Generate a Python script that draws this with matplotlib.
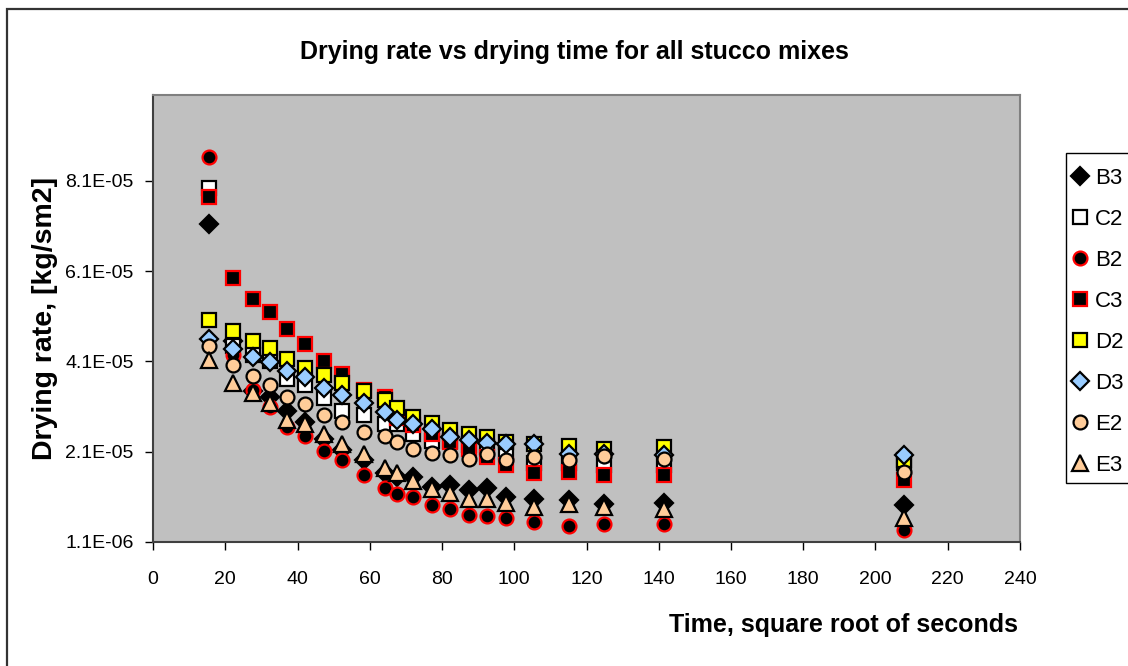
import matplotlib
matplotlib.use("Agg")
import matplotlib.pyplot as plt
from matplotlib.patches import Rectangle
from matplotlib.ticker import FixedLocator, FixedFormatter

plt.rcParams['font.family'] = ['Liberation Sans', 'DejaVu Sans']

# Time, square root of seconds
time_sqrt = [15.6, 22.2, 27.6, 32.4, 37.2, 42.1, 47.3, 52.3, 58.4, 64.2, 67.6,
             72.1, 77.3, 82.2, 87.5, 92.4, 97.7, 105.5, 115.2, 124.9, 141.5, 208.0]

# Drying rate, kg/(s m2)
B3 = [7.15e-5, 4.56e-5, 3.45e-5, 3.31e-5, 3.00e-5, 2.76e-5, 2.39e-5, 2.15e-5, 1.91e-5, 1.62e-5, 1.54e-5,
      1.54e-5, 1.32e-5, 1.36e-5, 1.25e-5, 1.29e-5, 1.10e-5, 1.05e-5, 1.03e-5, 0.95e-5, 0.96e-5, 0.92e-5]
C2 = [7.93e-5, 4.45e-5, 4.25e-5, 4.12e-5, 3.72e-5, 3.57e-5, 3.29e-5, 3.00e-5, 2.91e-5, 2.72e-5, 2.72e-5,
      2.49e-5, 2.35e-5, 2.35e-5, 2.25e-5, 2.20e-5, 2.10e-5, 1.85e-5, 1.85e-5, 1.80e-5, 1.80e-5, 1.85e-5]
B2 = [8.62e-5, 4.25e-5, 3.47e-5, 3.09e-5, 2.65e-5, 2.44e-5, 2.11e-5, 1.91e-5, 1.58e-5, 1.29e-5, 1.16e-5,
      1.09e-5, 0.92e-5, 0.83e-5, 0.70e-5, 0.68e-5, 0.63e-5, 0.55e-5, 0.46e-5, 0.50e-5, 0.50e-5, 0.37e-5]
C3 = [7.75e-5, 5.94e-5, 5.48e-5, 5.19e-5, 4.81e-5, 4.49e-5, 4.12e-5, 3.83e-5, 3.46e-5, 3.31e-5, 2.84e-5,
      2.69e-5, 2.50e-5, 2.32e-5, 2.17e-5, 1.99e-5, 1.80e-5, 1.62e-5, 1.66e-5, 1.58e-5, 1.58e-5, 1.47e-5]
D2 = [5.02e-5, 4.77e-5, 4.56e-5, 4.40e-5, 4.15e-5, 3.95e-5, 3.81e-5, 3.62e-5, 3.44e-5, 3.25e-5, 3.08e-5,
      2.88e-5, 2.74e-5, 2.59e-5, 2.50e-5, 2.43e-5, 2.32e-5, 2.28e-5, 2.22e-5, 2.17e-5, 2.21e-5, 1.91e-5]
D3 = [4.60e-5, 4.38e-5, 4.21e-5, 4.08e-5, 3.90e-5, 3.75e-5, 3.51e-5, 3.35e-5, 3.18e-5, 2.98e-5, 2.80e-5,
      2.72e-5, 2.61e-5, 2.43e-5, 2.36e-5, 2.30e-5, 2.27e-5, 2.27e-5, 2.06e-5, 2.05e-5, 2.02e-5, 2.04e-5]
E2 = [4.44e-5, 4.03e-5, 3.77e-5, 3.57e-5, 3.31e-5, 3.15e-5, 2.91e-5, 2.77e-5, 2.54e-5, 2.44e-5, 2.32e-5,
      2.17e-5, 2.07e-5, 2.04e-5, 1.95e-5, 2.05e-5, 1.91e-5, 1.99e-5, 1.91e-5, 2.00e-5, 1.95e-5, 1.66e-5]
E3 = [4.14e-5, 3.62e-5, 3.40e-5, 3.17e-5, 2.81e-5, 2.71e-5, 2.50e-5, 2.28e-5, 2.05e-5, 1.75e-5, 1.62e-5,
      1.46e-5, 1.27e-5, 1.18e-5, 1.05e-5, 1.05e-5, 0.96e-5, 0.88e-5, 0.94e-5, 0.87e-5, 0.83e-5, 0.63e-5]

series_names = ["B3", "C2", "B2", "C3", "D2", "D3", "E2", "E3"]
series_values = [B3, C2, B2, C3, D2, D3, E2, E3]

y_ticks = [1.1e-6, 2.1e-5, 4.1e-5, 6.1e-5, 8.1e-5]
y_tick_labels = ["1.1E-06", "2.1E-05", "4.1E-05", "6.1E-05", "8.1E-05"]
x_ticks = list(range(0, 241, 20))

styles = {
    "B3": dict(marker="D", color="black", edge="black", size=9),
    "C2": dict(marker="s", color="white", edge="black", size=10),
    "B2": dict(marker="o", color="black", edge="red", size=10),
    "C3": dict(marker="s", color="black", edge="red", size=10),
    "D2": dict(marker="s", color="#FFFF00", edge="black", size=10),
    "D3": dict(marker="D", color="#99CCFF", edge="black", size=9),
    "E2": dict(marker="o", color="#FFCC99", edge="black", size=10),
    "E3": dict(marker="^", color="#FFCC99", edge="black", size=11),
}

W, H = 1128, 666
fig = plt.figure(figsize=(W / 100, H / 100), dpi=100)
ax = fig.add_axes([153 / W, 1 - 541.7 / H, (1020 - 153) / W, (541.7 - 95) / H])
ax.set_facecolor("#C0C0C0")

for name, vals in zip(series_names, series_values):
    st = styles[name]
    ax.plot(time_sqrt, vals, linestyle="none", marker=st["marker"],
            markerfacecolor=st["color"], markeredgecolor=st["edge"],
            markeredgewidth=1.6, markersize=st["size"], label=name, clip_on=False)

ax.set_xlim(0, 240)
ax.set_ylim(1.1e-6, 1.0e-4)
ax.xaxis.set_major_locator(FixedLocator(x_ticks))
ax.set_xticklabels([str(v) for v in x_ticks])
ax.yaxis.set_major_locator(FixedLocator(y_ticks))
ax.yaxis.set_major_formatter(FixedFormatter(y_tick_labels))
ax.tick_params(axis="both", direction="out", length=6, width=1, colors="black",
               labelsize=14)
ax.tick_params(axis="x", pad=15)
ax.tick_params(axis="y", pad=8)

for side in ("top", "right"):
    ax.spines[side].set_color("#808080")
    ax.spines[side].set_linewidth(1.5)
ax.spines["left"].set_color("#404040")
ax.spines["bottom"].set_color("#404040")
ax.spines["left"].set_linewidth(1.5)
ax.spines["bottom"].set_linewidth(1.5)

fig.text(574 / W, 1 - 52 / H, "Drying rate vs drying time for all stucco mixes",
         ha="center", va="center", fontsize=18, fontweight="bold")
fig.text(1018 / W, 1 - 625 / H, "Time, square root of seconds",
         ha="right", va="center", fontsize=18, fontweight="bold")
fig.text(45 / W, 1 - 318 / H, "Drying rate, [kg/sm2]",
         ha="center", va="center", rotation=90, fontsize=20.5, fontweight="bold")

# Legend entries without their own frame; the box is drawn separately
leg = fig.legend(loc="upper left", bbox_to_anchor=(1073 / W, 1 - 168 / H),
                 bbox_transform=fig.transFigure, fontsize=16, frameon=False,
                 borderpad=0, labelspacing=0.9,
                 handlelength=0.6, handletextpad=0.4, borderaxespad=0)
fig.patches.append(Rectangle((1066 / W, 1 - 483 / H), 100 / W, 330 / H,
                             transform=fig.transFigure, facecolor="white",
                             edgecolor="black", linewidth=1.0, zorder=-1))

# Chart area border
fig.patches.append(Rectangle((7 / W, -0.05), 1.2, 1 - 8.5 / H + 0.05,
                             transform=fig.transFigure, fill=False,
                             edgecolor="#333333", linewidth=1.6))

fig.savefig("out.png", dpi=100)
